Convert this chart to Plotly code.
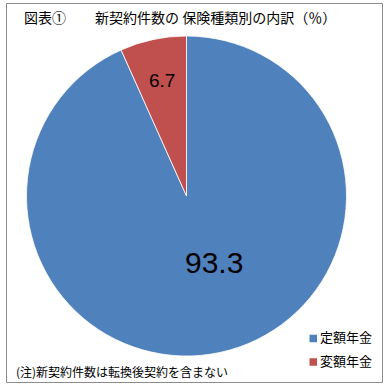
import math
import plotly.graph_objects as go

labels = ["定額年金", "変額年金"]
values = [93.3, 6.7]
colors = ["#4F81BD", "#C0504D"]
title_head = "図表①"
title_text = "新契約件数の 保険種類別の内訳（％）"
note_text = "(注)新契約件数は転換後契約を含まない"

W, H = 390, 388
# pie placement (pixels)
cx, cy, R = 186.5, 196.0, 160.0

fig = go.Figure(go.Pie(
    labels=labels, values=values, sort=False, direction="clockwise", rotation=0,
    marker=dict(colors=colors, line=dict(color="#FFFFFF", width=0.8)),
    textinfo="none", hoverinfo="label+value", showlegend=False,
    domain=dict(x=[(cx - R) / W, (cx + R) / W], y=[1 - (cy + R) / H, 1 - (cy - R) / H]),
))

# value labels placed along each slice (style offsets separate from data)
label_angle_shift = [-10.5, 0.0]   # degrees
label_radius_frac = [0.45, 0.74]
label_font_size = [30, 19]
total = sum(values)
start = 0.0
for v, sh, rf, fs in zip(values, label_angle_shift, label_radius_frac, label_font_size):
    mid = (start + v / 2) / total * 360 + sh
    start += v
    px = cx + R * rf * math.sin(math.radians(mid))
    py = cy - R * rf * math.cos(math.radians(mid))
    fig.add_annotation(x=px / W, y=1 - py / H, xref="paper", yref="paper",
                       text=f"{v:.1f}", showarrow=False,
                       font=dict(family="Liberation Sans", size=fs, color="#000000"),
                       xanchor="center", yanchor="middle")

fig.add_annotation(x=22 / W, y=1 - 17 / H, xref="paper", yref="paper", text=title_head,
                   showarrow=False, xanchor="left", yanchor="middle",
                   font=dict(family="Noto Sans CJK JP", size=14, color="#000000"))
fig.add_annotation(x=93 / W, y=1 - 17 / H, xref="paper", yref="paper", text=title_text,
                   showarrow=False, xanchor="left", yanchor="middle",
                   font=dict(family="Noto Sans CJK JP", size=14, color="#000000"))
fig.add_annotation(x=14 / W, y=1 - 371 / H, xref="paper", yref="paper", text=note_text,
                   showarrow=False, xanchor="left", yanchor="middle",
                   font=dict(family="Noto Sans CJK JP", size=12, color="#000000"))

# manual legend
leg_x, leg_y0, leg_dy, sq = 309.5, 338.5, 23.5, 7.5
for i, (lab, col) in enumerate(zip(labels, colors)):
    yc = leg_y0 + i * leg_dy
    fig.add_shape(type="rect", xref="paper", yref="paper",
                  x0=leg_x / W, x1=(leg_x + sq) / W,
                  y0=1 - (yc + sq / 2) / H, y1=1 - (yc - sq / 2) / H,
                  fillcolor=col, line=dict(width=0))
    fig.add_annotation(x=(leg_x + sq + 1) / W, y=1 - (yc - 2) / H, xref="paper", yref="paper",
                       text=lab, showarrow=False, xanchor="left", yanchor="middle",
                       font=dict(family="Noto Sans CJK JP", size=13, color="#000000"))

fig.add_shape(type="rect", xref="paper", yref="paper",
              x0=6.5 / W, x1=382.5 / W, y0=1 - 382.5 / H, y1=1 - 3.5 / H,
              line=dict(color="#8C8C8C", width=1))

fig.update_layout(
    width=W, height=H, margin=dict(l=0, r=0, t=0, b=0, autoexpand=False),
    paper_bgcolor="#FFFFFF", plot_bgcolor="#FFFFFF",
    showlegend=False,
)

fig.write_html("out.html")
